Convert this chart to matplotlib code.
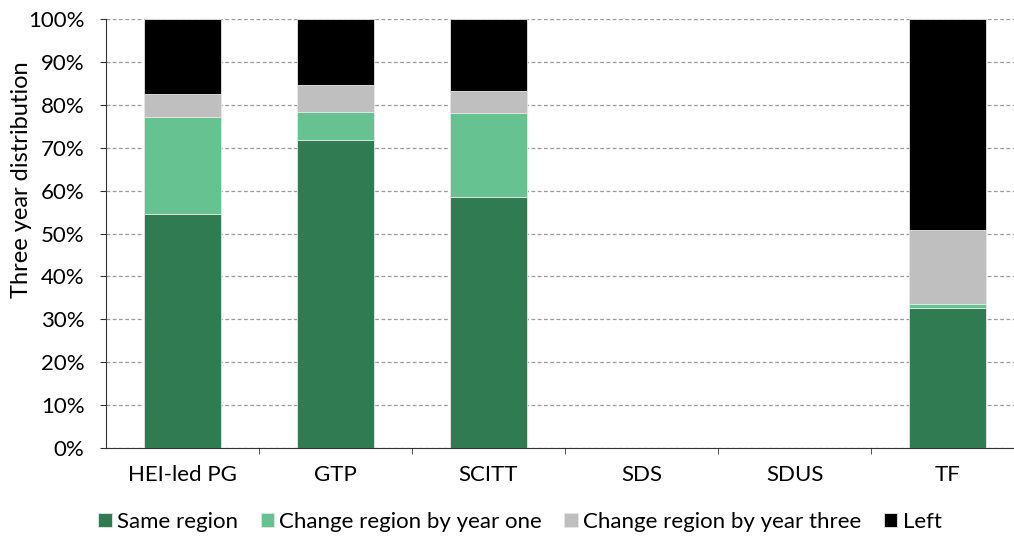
import matplotlib
matplotlib.use("Agg")
import matplotlib.pyplot as plt
import numpy as np

categories = ["HEI-led PG", "GTP", "SCITT", "SDS", "SDUS", "TF"]
same_region = [54.5, 71.8, 58.5, 0, 0, 32.6]
change_year_one = [22.7, 6.5, 19.6, 0, 0, 1.0]
change_year_three = [5.3, 6.3, 5.1, 0, 0, 17.2]
left = [17.5, 15.4, 16.8, 0, 0, 49.2]
series_names = ["Same region", "Change region by year one", "Change region by year three", "Left"]
colors = ["#317B53", "#66C391", "#BFBFBF", "#000000"]

plt.rcParams['font.family'] = ['Lato', 'DejaVu Sans']
fig = plt.figure(figsize=(10.14, 5.4), dpi=100)
ax = fig.add_axes([106/1014, 1-448/540, 908/1014, 429/540])

x = np.arange(len(categories))
bottom = np.zeros(len(categories))
for vals, name, c in zip([same_region, change_year_one, change_year_three, left], series_names, colors):
    vals = np.array(vals, dtype=float)
    ax.bar(x, vals, 0.5, bottom=bottom, color=c, label=name, edgecolor="#e6e6e6", linewidth=0.6, zorder=3)
    bottom += vals

ax.set_xlim(-0.5, -0.5 + 908/153)
ax.set_ylim(0, 100)
ax.set_yticks(np.arange(0, 101, 10))
ax.set_yticklabels([f"{v}%" for v in range(0, 101, 10)], fontsize=16)
ax.set_xticks(x)
ax.set_xticklabels(categories, fontsize=16)
ax.set_xticks(np.arange(0.5, 5, 1), minor=True)
ax.tick_params(axis='x', which='major', length=0, pad=12)
ax.tick_params(axis='x', which='minor', length=4.5, direction='out', color='#333333')
ax.tick_params(axis='y', length=4.5, direction='out', color='#333333', pad=11)
ax.yaxis.grid(True, linestyle=(0, (3, 2)), color='#999999', linewidth=0.9, zorder=0)
ax.set_axisbelow(True)
for s in ['top', 'right']:
    ax.spines[s].set_visible(False)
ax.spines['left'].set_color('#333333')
ax.spines['bottom'].set_color('#333333')
ax.set_ylabel("Three year distribution", fontsize=17, labelpad=2)
ax.yaxis.set_label_coords(-0.0815, (448-180)/429)

fig.legend(loc='center', bbox_to_anchor=(520/1014, 1-522/540), ncol=4, frameon=False,
           fontsize=16, handlelength=0.6, handleheight=0.6, handletextpad=0.25, columnspacing=1.0)

fig.savefig("out.png", dpi=100)
